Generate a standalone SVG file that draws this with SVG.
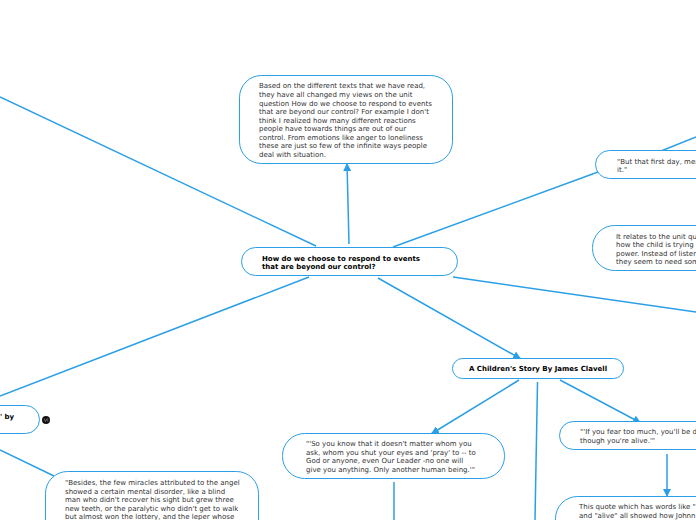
<svg xmlns="http://www.w3.org/2000/svg" width="696" height="520" viewBox="0 0 696 520">
<defs>
<marker id="arrow" viewBox="0 0 8 8" refX="8" refY="4" markerWidth="8" markerHeight="8" markerUnits="userSpaceOnUse" orient="auto"><path d="M0 0L8 4L0 8Z" fill="#2b9fe6"/></marker>
</defs>
<style>
.n{fill:#fff;stroke:#2b9fe6;stroke-width:1}
.c{fill:none;stroke:#2b9fe6;stroke-width:1.500}
.a{marker-end:url(#arrow)}
text{font-family:"DejaVu Sans",Verdana,sans-serif;font-size:7px;fill:#333}
.b{font-weight:bold;fill:#000}
</style>
<rect width="696" height="520" fill="#fff"/>
<g id="connectors">
<path class="c" d="M0 97L316 246"/>
<path class="c a" d="M349 244L347 163"/>
<path class="c" d="M393 247L598 172"/>
<path class="c" d="M661 151L696 137"/>
<path class="c" d="M453 277L696 312"/>
<path class="c" d="M309 277L0 396"/>
<path class="c a" d="M378 278L521 359"/>
<path class="c a" d="M519 380L431 434"/>
<path class="c" d="M537.500 382L535 520"/>
<path class="c a" d="M560 380L641 423"/>
<path class="c a" d="M667 454L667 497"/>
<path class="c" d="M394 482L394 520"/>
<path class="c" d="M0 450L54 476"/>
</g>
<g id="node-reflection">
<rect class="n" x="239.500" y="75.500" width="213" height="88" rx="22"/>
<text x="259" y="88">Based on the different texts that we have read,</text>
<text x="259" y="97">they have all changed my views on the unit</text>
<text x="259" y="105.500">question How do we choose to respond to events</text>
<text x="259" y="114">that are beyond our control? For example I don't</text>
<text x="259" y="122.500">think I realized how many different reactions</text>
<text x="259" y="131">people have towards things are out of our</text>
<text x="259" y="139.500">control. From emotions like anger to loneliness</text>
<text x="259" y="148">these are just so few of the infinite ways people</text>
<text x="259" y="157">deal with situation.</text>
</g>
<g id="node-first-day">
<rect class="n" x="595.500" y="150.500" width="130" height="28" rx="14"/>
<text x="617" y="163.500">"But that first day, mea</text>
<text x="617" y="172">it."</text>
</g>
<g id="node-relates">
<rect class="n" x="592.500" y="225.500" width="140" height="45" rx="22"/>
<text x="616" y="238.500">It relates to the unit qu</text>
<text x="616" y="247">how the child is trying</text>
<text x="616" y="255.500">power. Instead of lister</text>
<text x="616" y="264">they seem to need som</text>
</g>
<g id="node-root">
<rect class="n" x="241.500" y="247.500" width="216" height="28" rx="14"/>
<text class="b" x="262" y="260.500">How do we choose to respond to events</text>
<text class="b" x="262" y="269">that are beyond our control?</text>
</g>
<g id="node-childrens-story">
<rect class="n" x="452.500" y="358.500" width="171" height="20" rx="10"/>
<text class="b" x="469" y="371">A Children's Story By James Clavell</text>
</g>
<g id="node-left">
<rect class="n" x="-60" y="405.500" width="99.500" height="28" rx="14"/>
<text class="b" x="0" y="419">' by</text>
<circle cx="46" cy="420" r="4" fill="#111"/>
<path d="M44 418.500L45.500 421.500L47 418.500M47.800 418.500V421.500" fill="none" stroke="#999" stroke-width="0.600"/>
</g>
<g id="node-whom">
<rect class="n" x="282.500" y="433.500" width="222" height="45" rx="22"/>
<text x="306" y="446">"'So you know that it doesn't matter whom you</text>
<text x="306" y="455">ask, whom you shut your eyes and 'pray' to -- to</text>
<text x="306" y="463">God or anyone, even Our Leader -no one will</text>
<text x="306" y="472">give you anything. Only another human being.'"</text>
</g>
<g id="node-fear">
<rect class="n" x="559.500" y="421.500" width="170" height="28" rx="14"/>
<text x="580" y="434">"'If you fear too much, you'll be d</text>
<text x="580" y="443">though you're alive.'"</text>
</g>
<g id="node-quote">
<rect class="n" x="555.500" y="496.500" width="180" height="60" rx="22"/>
<text x="579" y="509">This quote which has words like "</text>
<text x="579" y="518">and "alive" all showed how Johnn</text>
</g>
<g id="node-besides">
<rect class="n" x="45.500" y="471.500" width="213" height="80" rx="22"/>
<text x="65" y="485">"Besides, the few miracles attributed to the angel</text>
<text x="65" y="493.500">showed a certain mental disorder, like a blind</text>
<text x="65" y="502">man who didn't recover his sight but grew three</text>
<text x="65" y="510.500">new teeth, or the paralytic who didn't get to walk</text>
<text x="65" y="519">but almost won the lottery, and the leper whose</text>
</g>
</svg>
